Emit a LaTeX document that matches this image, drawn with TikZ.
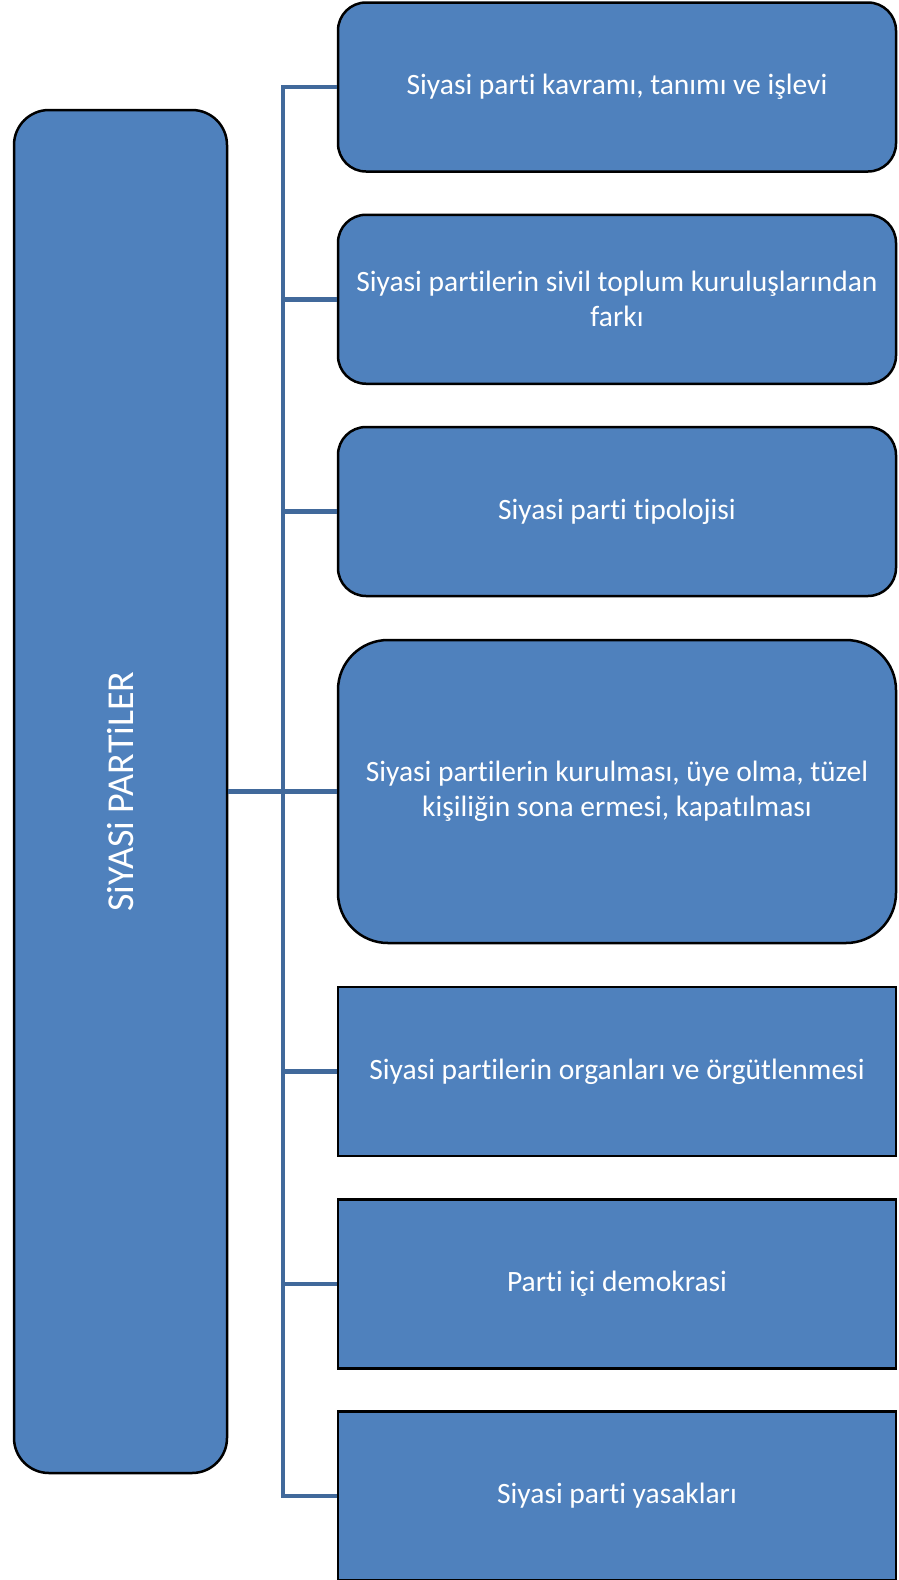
\documentclass[tikz,border=0pt]{standalone}
\usepackage{fontspec}
\setmainfont{Carlito}[Ligatures=NoCommon]
\usepackage{tikz}
\usetikzlibrary{positioning}

\definecolor{boxblue}{HTML}{4F81BD}
\definecolor{linkblue}{HTML}{41699B}

\begin{document}
\begin{tikzpicture}[
				x=1pt, y=-1pt,
				mainnode/.style={draw=black, line width=2.5pt, fill=boxblue, text=white,
						rounded corners=35pt, minimum width=1363pt, minimum height=213pt,
						inner sep=0pt, font=\fontsize{38pt}{46pt}\selectfont},
				topicnode/.style={draw=black, line width=2.5pt, fill=boxblue, text=white,
						minimum width=558pt, minimum height=169pt, inner sep=0pt, align=center,
						font=\fontsize{29.5pt}{35pt}\selectfont},
				roundtopic/.style={topicnode, rounded corners=28pt},
				link/.style={draw=linkblue, line width=4.5pt}
			]

			\useasboundingbox (0,0) rectangle (899,1580);

			\def \dy {212.25}
			\def \cx {617}

			% trunk position
			\coordinate (trunk) at (283,0);

			\node[roundtopic] (topic-1) at (\cx, 87) {Siyasi parti kavramı, tanımı ve işlevi};
			\node[roundtopic] (topic-2) at (\cx, 87 + 1 * \dy) {Siyasi partilerin sivil toplum kuruluşlarından\\farkı};
			\node[roundtopic] (topic-3) at (\cx, 87 + 2 * \dy) {Siyasi parti tipolojisi};
			\node[roundtopic, minimum height=303pt, rounded corners=50pt] (topic-4) at (\cx, 791.5) {Siyasi partilerin kurulması, üye olma, tüzel\\kişiliğin sona ermesi, kapatılması};
			\node[topicnode] (topic-5) at (\cx, 1071.5) {Siyasi partilerin organları ve örgütlenmesi};
			\node[topicnode] (topic-6) at (\cx, 1071.5 + 1 * \dy) {Parti içi demokrasi};
			\node[topicnode] (topic-7) at (\cx, 1071.5 + 2 * \dy) {Siyasi parti yasakları};

			\node[mainnode, rotate=90] (main) at (120.5, 791.5) {SiYASi PARTiLER};

			\draw[link] (topic-1.west) -- (topic-1.west -| trunk) -- (topic-7.west -| trunk) -- (topic-7.west);

			\foreach \i in {2, ..., 6} {
					\draw[link] (topic-\i.west -| trunk) -- (topic-\i.west);
				}

			\draw[link] (main.south) -- (topic-4.west);

		\end{tikzpicture}
\end{document}
